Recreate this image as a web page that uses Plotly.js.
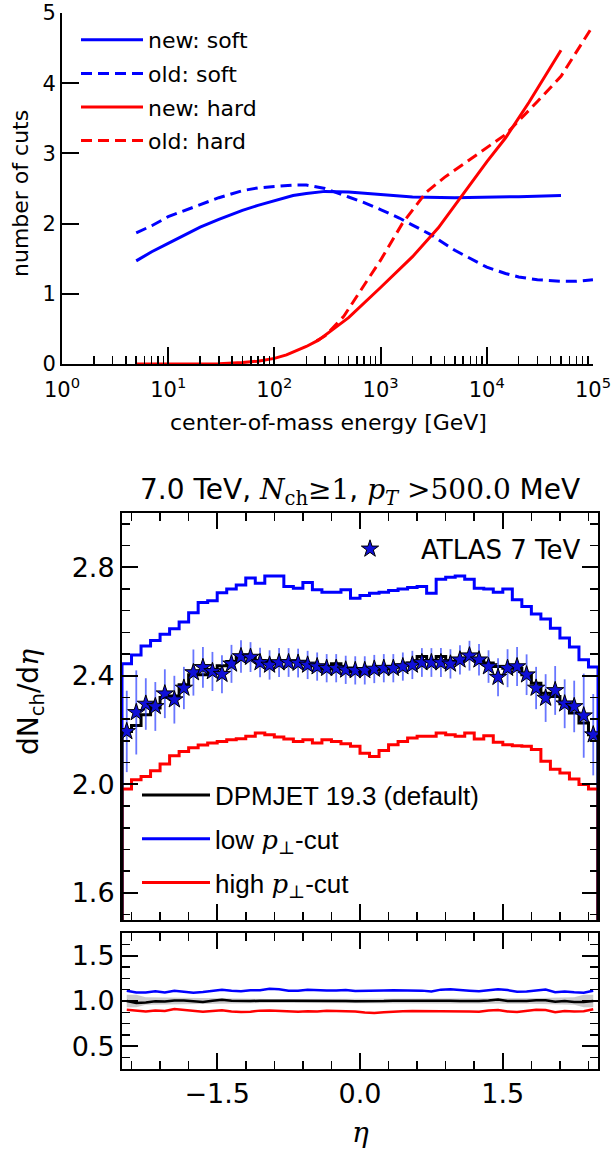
<!DOCTYPE html>
<html><head><meta charset="utf-8">
<script src="https://cdn.plot.ly/plotly-3.0.1.min.js"></script>
<style>html,body{margin:0;padding:0;background:#fff;}#chart{width:613px;height:1149px;}</style>
</head><body><div id="chart"></div>
<script>
// ---------- Top panel: number of cuts vs energy ----------
const newSoftE = [5, 7, 10, 15, 20, 30, 50, 70, 100, 150, 200, 300, 500, 1000, 2000, 5000, 10000, 20000, 50000];
const newSoftV = [1.47, 1.60, 1.72, 1.86, 1.95, 2.06, 2.19, 2.26, 2.33, 2.40, 2.43, 2.46, 2.45, 2.41, 2.38, 2.37, 2.375, 2.385, 2.40];
const oldSoftE = [5, 7, 10, 15, 20, 30, 50, 70, 100, 150, 200, 300, 500, 700, 1000, 1500, 2000, 3000, 5000, 7000, 10000, 15000, 20000, 30000, 50000, 70000, 100000];
const oldSoftV = [1.87, 1.97, 2.10, 2.20, 2.27, 2.37, 2.47, 2.51, 2.53, 2.55, 2.55, 2.50, 2.38, 2.30, 2.20, 2.08, 1.98, 1.84, 1.62, 1.50, 1.38, 1.29, 1.24, 1.20, 1.18, 1.18, 1.20];
const newHardE = [5, 10, 20, 30, 50, 70, 100, 130, 200, 260, 400, 500, 1000, 2000, 3500, 5000, 10000, 15000, 25000, 50000];
const newHardV = [0, 0, 0, 0.005, 0.02, 0.04, 0.08, 0.13, 0.25, 0.34, 0.55, 0.66, 1.09, 1.53, 1.94, 2.26, 2.88, 3.22, 3.73, 4.47];
const oldHardE = [250, 300, 450, 650, 1000, 1600, 2300, 2700, 4000, 8000, 15000, 30000, 50000, 100000];
const oldHardV = [0.33, 0.40, 0.68, 1.05, 1.48, 2.00, 2.32, 2.45, 2.66, 2.98, 3.27, 3.74, 4.10, 4.82];
const topLegendNames = ['new: soft', 'old: soft', 'new: hard', 'old: hard'];
const energyTickVals = [1, 10, 100, 1000, 10000, 100000];
const energyTickText = ['10<sup>0</sup>', '10<sup>1</sup>', '10<sup>2</sup>', '10<sup>3</sup>', '10<sup>4</sup>', '10<sup>5</sup>'];
const cutsTickVals = [0, 1, 2, 3, 4, 5];

// ---------- Middle panel: dNch/deta ----------
const etaCenters = [-2.45,-2.35,-2.25,-2.15,-2.05,-1.95,-1.85,-1.75,-1.65,-1.55,-1.45,-1.35,-1.25,-1.15,-1.05,-0.95,-0.85,-0.75,-0.65,-0.55,-0.45,-0.35,-0.25,-0.15,-0.05,0.05,0.15,0.25,0.35,0.45,0.55,0.65,0.75,0.85,0.95,1.05,1.15,1.25,1.35,1.45,1.55,1.65,1.75,1.85,1.95,2.05,2.15,2.25,2.35,2.45];
const dpmjetDefault = [2.195,2.217,2.256,2.281,2.320,2.326,2.367,2.404,2.404,2.422,
  2.437,2.453,2.469,2.469,2.456,2.453,2.453,2.453,2.453,2.444,
  2.437,2.425,2.444,2.425,2.416,2.410,2.422,2.425,2.432,2.440,
  2.447,2.471,2.453,2.471,2.453,2.459,2.465,2.459,2.447,2.434,
  2.428,2.428,2.404,2.373,2.336,2.324,2.297,2.263,2.226,2.183];
const atlasData = [2.195,2.265,2.296,2.287,2.334,2.312,2.355,2.412,2.431,2.416,
  2.406,2.444,2.471,2.469,2.449,2.440,2.449,2.449,2.447,2.440,
  2.434,2.428,2.428,2.422,2.420,2.420,2.425,2.428,2.428,2.434,
  2.440,2.449,2.449,2.449,2.444,2.459,2.474,2.459,2.434,2.395,
  2.428,2.434,2.404,2.355,2.318,2.346,2.297,2.287,2.253,2.183];
const atlasErr = [0.150,0.155,0.095,0.090,0.090,0.088,0.078,0.085,0.075,0.072,
  0.070,0.070,0.060,0.055,0.054,0.054,0.053,0.053,0.053,0.052,
  0.052,0.052,0.052,0.052,0.052,0.052,0.052,0.052,0.052,0.052,
  0.052,0.053,0.053,0.053,0.054,0.054,0.055,0.058,0.060,0.070,
  0.070,0.072,0.075,0.078,0.088,0.090,0.090,0.095,0.155,0.150];
const lowPtCut = [2.444,2.477,2.510,2.530,2.553,2.573,2.598,2.632,2.670,2.677,
  2.706,2.720,2.735,2.760,2.741,2.768,2.768,2.729,2.723,2.744,
  2.717,2.708,2.708,2.717,2.686,2.696,2.704,2.708,2.714,2.720,
  2.725,2.729,2.704,2.756,2.763,2.768,2.756,2.723,2.720,2.708,
  2.720,2.680,2.655,2.628,2.609,2.575,2.539,2.506,2.459,2.432];
const highPtCut = [1.983,2.017,2.029,2.050,2.075,2.105,2.121,2.135,2.145,2.152,
  2.158,2.164,2.168,2.177,2.189,2.183,2.174,2.167,2.158,2.164,
  2.152,2.164,2.158,2.150,2.140,2.115,2.103,2.125,2.146,2.158,
  2.171,2.177,2.177,2.189,2.183,2.177,2.189,2.167,2.179,2.155,
  2.146,2.142,2.140,2.128,2.085,2.056,2.042,2.020,1.999,1.983];
const modelNames = ['DPMJET 19.3 (default)', 'low <i style="font-family:DejaVu Serif">p</i><sub style="font-family:DejaVu Serif">⊥</sub>-cut', 'high <i style="font-family:DejaVu Serif">p</i><sub style="font-family:DejaVu Serif">⊥</sub>-cut'];
const dataName = 'ATLAS 7 TeV';
const etaTickVals = [-1.5, 0.0, 1.5];
const etaTickText = ['\u22121.5', '0.0', '1.5'];

// ---------- helpers (derived from the arrays) ----------
const half = (etaCenters[1] - etaCenters[0]) / 2;
const lo = etaCenters[0] - half, hi = etaCenters[etaCenters.length - 1] + half;
function stepX() { return [lo].concat(etaCenters.map(c => c - half), [hi, hi]); }
function stepY(v) { return [0].concat(v, [v[v.length - 1], 0]); }
const ratio = v => v.map((y, i) => y / atlasData[i]);
const bandLo = atlasData.map((d, i) => 1 - atlasErr[i] / d);
const bandHi = atlasData.map((d, i) => 1 + atlasErr[i] / d);

const BLUE = '#0000ff', RED = '#ff0000', BLACK = '#000000';
const traces = [
  {x: newSoftE, y: newSoftV, name: topLegendNames[0], mode: 'lines', line: {color: BLUE, width: 3}, xaxis: 'x', yaxis: 'y', legend: 'legend', legendgroup: 'a'},
  {x: oldSoftE, y: oldSoftV, name: topLegendNames[1], mode: 'lines', line: {color: BLUE, width: 3, dash: '11px,6px'}, xaxis: 'x', yaxis: 'y', legend: 'legend', legendgroup: 'b'},
  {x: newHardE, y: newHardV, name: topLegendNames[2], mode: 'lines', line: {color: RED, width: 3}, xaxis: 'x', yaxis: 'y', legend: 'legend', legendgroup: 'c'},
  {x: oldHardE, y: oldHardV, name: topLegendNames[3], mode: 'lines', line: {color: RED, width: 3, dash: '11px,6px'}, xaxis: 'x', yaxis: 'y', legend: 'legend', legendgroup: 'd'},

  {x: stepX(), y: stepY(lowPtCut), name: modelNames[1], mode: 'lines', line: {color: BLUE, width: 3, shape: 'hv'}, xaxis: 'x2', yaxis: 'y2', legend: 'legend3', legendgroup: 'm2', legendrank: 2},
  {x: stepX(), y: stepY(highPtCut), name: modelNames[2], mode: 'lines', line: {color: RED, width: 3, shape: 'hv'}, xaxis: 'x2', yaxis: 'y2', legend: 'legend3', legendgroup: 'm3', legendrank: 3},
  {x: stepX(), y: stepY(dpmjetDefault), name: modelNames[0], mode: 'lines', line: {color: BLACK, width: 3, shape: 'hv'}, xaxis: 'x2', yaxis: 'y2', legend: 'legend3', legendgroup: 'm1', legendrank: 1},
  {x: etaCenters, y: atlasData, name: dataName, mode: 'markers', xaxis: 'x2', yaxis: 'y2', legend: 'legend2',
   marker: {symbol: 'star', size: 13, color: '#1010d8', line: {color: BLACK, width: 1}},
   error_y: {type: 'data', array: atlasErr, visible: true, color: 'rgba(40,60,255,0.7)', thickness: 1.8, width: 0}},

  {x: etaCenters, y: bandLo, mode: 'lines', line: {width: 0, color: 'rgba(0,0,0,0)'}, xaxis: 'x3', yaxis: 'y3', showlegend: false, hoverinfo: 'skip'},
  {x: etaCenters, y: bandHi, mode: 'lines', line: {width: 0, color: 'rgba(0,0,0,0)'}, fill: 'tonexty', fillcolor: 'rgba(110,110,110,0.35)', xaxis: 'x3', yaxis: 'y3', showlegend: false, hoverinfo: 'skip'},
  {x: etaCenters, y: ratio(dpmjetDefault), mode: 'lines', line: {color: BLACK, width: 2.5}, xaxis: 'x3', yaxis: 'y3', showlegend: false},
  {x: etaCenters, y: ratio(lowPtCut), mode: 'lines', line: {color: BLUE, width: 2.5}, xaxis: 'x3', yaxis: 'y3', showlegend: false},
  {x: etaCenters, y: ratio(highPtCut), mode: 'lines', line: {color: RED, width: 2.5}, xaxis: 'x3', yaxis: 'y3', showlegend: false}
];

const minorE = [];
for (let k = 0; k < 5; k++) for (let m = 2; m <= 9; m++) minorE.push(m * Math.pow(10, k));

const FONT = 'DejaVu Sans';
const axBase = {showline: true, linecolor: BLACK, linewidth: 2, ticks: 'inside', tickcolor: BLACK, tickwidth: 2,
  showgrid: false, zeroline: false, fixedrange: true, ticklabeloverflow: 'allow'};
const H = 1149, W = 613;
const py = p => 1 - p / H, px = p => p / W;

const layout = {
  width: W, height: H, margin: {l: 0, r: 0, t: 0, b: 0}, paper_bgcolor: '#fff', plot_bgcolor: 'rgba(0,0,0,0)',
  font: {family: FONT, color: BLACK},
  xaxis: Object.assign({}, axBase, {domain: [px(62), px(593)], anchor: 'y', type: 'log', range: [0, 5.0005],
    tickmode: 'array', tickvals: energyTickVals, ticktext: energyTickText, ticklen: 17, mirror: false,
    tickfont: {family: FONT, size: 21}, ticklabelstandoff: 6,
    minor: {tickmode: 'array', tickvals: minorE, ticks: 'inside', ticklen: 8, tickwidth: 1.5, tickcolor: BLACK}}),
  yaxis: Object.assign({}, axBase, {domain: [py(364), py(13)], anchor: 'x', range: [0, 5.002], tickmode: 'array',
    tickvals: cutsTickVals, ticklen: 17, mirror: false, tickfont: {family: FONT, size: 21}}),
  xaxis2: Object.assign({}, axBase, {domain: [px(122), px(598)], anchor: 'y2', range: [-2.5, 2.5], mirror: 'allticks',
    tickmode: 'array', tickvals: etaTickVals, ticktext: etaTickText, ticklen: 16, showticklabels: false,
    minor: {tickmode: 'linear', tick0: -1.5, dtick: 0.3, ticks: 'inside', ticklen: 8, tickwidth: 1.5, tickcolor: BLACK}}),
  yaxis2: Object.assign({}, axBase, {domain: [py(920), py(513)], anchor: 'x2', range: [1.5, 3.0], tick0: 0, dtick: 0.4, tickformat: '.1f',
    ticklen: 16, mirror: 'allticks', tickfont: {family: FONT, size: 27},
    minor: {tickmode: 'linear', tick0: 0, dtick: 0.08, ticks: 'inside', ticklen: 8, tickwidth: 1.5, tickcolor: BLACK}}),
  xaxis3: Object.assign({}, axBase, {domain: [px(122), px(598)], anchor: 'y3', range: [-2.5, 2.5], mirror: 'allticks',
    tickmode: 'array', tickvals: etaTickVals, ticktext: etaTickText, ticklen: 16, tickfont: {family: FONT, size: 27},
    minor: {tickmode: 'linear', tick0: -1.5, dtick: 0.3, ticks: 'inside', ticklen: 8, tickwidth: 1.5, tickcolor: BLACK}}),
  yaxis3: Object.assign({}, axBase, {domain: [py(1069), py(933)], anchor: 'x3', range: [0.25, 1.75], tick0: 0, dtick: 0.5, tickformat: '.1f',
    ticklen: 16, mirror: 'allticks', tickfont: {family: FONT, size: 27},
    minor: {tickmode: 'linear', tick0: 0, dtick: 0.125, ticks: 'inside', ticklen: 8, tickwidth: 1.5, tickcolor: BLACK}}),
  legend: {x: px(76), y: py(19), xanchor: 'left', yanchor: 'top', bgcolor: 'rgba(0,0,0,0)', borderwidth: 0,
    font: {family: FONT, size: 22}, tracegroupgap: 2, itemwidth: 62, traceorder: 'grouped'},
  legend2: {x: px(586), y: py(549), xanchor: 'right', yanchor: 'middle', bgcolor: 'rgba(0,0,0,0)', borderwidth: 0,
    font: {family: FONT, size: 26}, itemwidth: 92},
  legend3: {x: px(137), y: py(839), xanchor: 'left', yanchor: 'middle', bgcolor: 'rgba(0,0,0,0)', borderwidth: 0,
    font: {family: 'Liberation Sans', size: 26}, tracegroupgap: 7, itemwidth: 68, traceorder: 'grouped'},
  annotations: [
    {text: 'center-of-mass energy [GeV]', xref: 'paper', yref: 'paper', x: px(328), y: py(423), showarrow: false,
      xanchor: 'center', yanchor: 'middle', font: {family: FONT, size: 22}},
    {text: 'number of cuts', xref: 'paper', yref: 'paper', x: px(20), y: py(194), showarrow: false, textangle: -90,
      xanchor: 'center', yanchor: 'middle', font: {family: FONT, size: 22}},
    {text: '7.0 TeV, <i style="font-family:DejaVu Serif">N</i><sub style="font-family:DejaVu Serif">ch</sub><span style="font-family:DejaVu Serif">≥1</span>, <i style="font-family:DejaVu Serif">p<sub>T</sub></i> <span style="font-family:DejaVu Serif">&gt;500.0</span> MeV',
      xref: 'paper', yref: 'paper', x: px(360), y: py(492), showarrow: false, xanchor: 'center', yanchor: 'middle',
      font: {family: FONT, size: 28}},
    {text: 'dN<sub>ch</sub>/d<i style="font-family:DejaVu Serif">η</i>', xref: 'paper', yref: 'paper', x: px(30), y: py(702),
      showarrow: false, textangle: -90, xanchor: 'center', yanchor: 'middle', font: {family: FONT, size: 28}},
    {text: '<i style="font-family:DejaVu Serif">η</i>', xref: 'paper', yref: 'paper', x: px(360), y: py(1132), showarrow: false,
      xanchor: 'center', yanchor: 'middle', font: {family: FONT, size: 28}}
  ]
};

Plotly.newPlot('chart', traces, layout, {displayModeBar: false, staticPlot: true});
</script></body></html>
